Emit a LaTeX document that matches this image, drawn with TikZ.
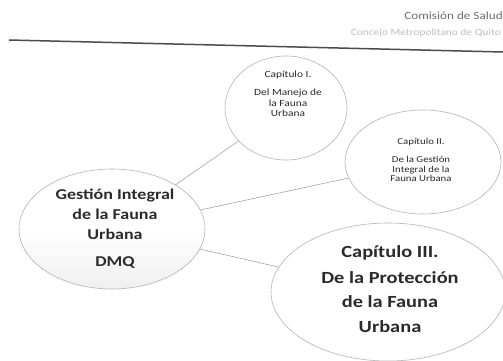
\documentclass[tikz,border=0pt]{standalone}
\usepackage{fontspec}
\setmainfont{Carlito}
\newfontfamily\wide[FakeStretch=1.2]{Carlito}
\usetikzlibrary{shapes.geometric}
\definecolor{edge}{HTML}{B4B4B4}
\definecolor{ink}{HTML}{2A2A2A}
\tikzset{
  bubble/.style={ellipse, draw=edge, line width=0.6pt, fill=white, inner sep=0pt},
  link/.style={draw=gray!70, line width=0.6pt},
  bigtxt/.style={text=ink, align=center, font=\wide\bfseries\fontsize{15}{20}\selectfont},
  hugetxt/.style={text=ink, align=center, font=\wide\bfseries\fontsize{17}{24.5}\selectfont},
  smalltxt/.style={text=ink, align=center, font=\wide\fontsize{9.5}{10.5}\selectfont},
  tinytxt/.style={text=ink, align=center, font=\wide\fontsize{9}{9.5}\selectfont},
}
\begin{document}
\begin{tikzpicture}[x=1pt,y=-1pt]
\useasboundingbox (0,0) rectangle (503,361);
\fill[white] (0,0) rectangle (503,361);

% header
\node[anchor=east, text=gray!85!black, font=\wide\fontsize{11}{13}\selectfont, inner sep=0pt] (hdr1) at (503,16) {Comisión de Salud};
\node[anchor=east, text=gray!50, font=\wide\fontsize{9.5}{11}\selectfont, inner sep=0pt] (hdr2) at (501,33) {Concejo Metropolitano de Quito};
\coordinate (hl) at (9,40);
\coordinate (hr) at (503,52);
\draw[line width=1.5pt, gray!60!black] (hl) -- (hr);

% ellipses
\node[bubble, minimum width=186pt, minimum height=120pt, top color=white, bottom color=gray!12, middle color=white] (main) at (112,229) {};
\node[bubble, minimum width=122pt, minimum height=104pt] (c1) at (286,108) {};
\node[bubble, minimum width=156pt, minimum height=104pt] (c2) at (423,162) {};
\node[bubble, minimum width=234pt, minimum height=138pt] (c3) at (388,292) {};

% connectors
\draw[link] (main) -- (c1);
\draw[link] (main) -- (c2);
\draw[link] (main) -- (c3);

% texts
\node[bigtxt] (mainT) at (115,214) {Gestión Integral\\de la Fauna\\Urbana};
\node[bigtxt] (dmq) at (115,263) {DMQ};

\node[smalltxt] (c1a) at (288,75) {Capítulo I.};
\node[smalltxt] (c1b) at (288,103) {Del Manejo de\\la Fauna\\Urbana};

\node[tinytxt] (c2a) at (421,142) {Capítulo II.};
\node[tinytxt] (c2b) at (421,169) {De la Gestión\\Integral de la\\Fauna Urbana};

\node[hugetxt] (c3a) at (390,253) {Capítulo III.};
\node[hugetxt] (c3b) at (390,302) {De la Protección\\de la Fauna\\Urbana};
\end{tikzpicture}
\end{document}
